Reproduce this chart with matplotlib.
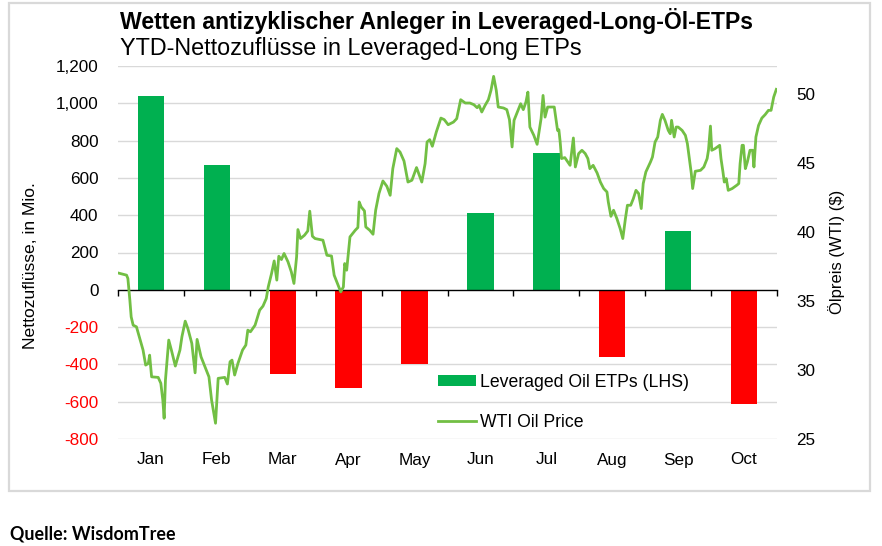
import matplotlib
matplotlib.use("Agg")
import matplotlib.pyplot as plt
import matplotlib.transforms as mtransforms
from matplotlib.patches import Rectangle, Patch
from matplotlib.lines import Line2D

# ---------------- data ----------------
months = ["Jan", "Feb", "Mar", "Apr", "May", "Jun", "Jul", "Aug", "Sep", "Oct"]
flows = [1040, 670, -450, -525, -397, 414, 731, -363, 313, -610]

left_ticks = [-800, -600, -400, -200, 0, 200, 400, 600, 800, 1000, 1200]
right_ticks = [25, 30, 35, 40, 45, 50]

# WTI price, position measured in months from 1 Jan
oil_pos = [0.00, 0.13, 0.15, 0.18, 0.20, 0.23, 0.28, 0.33, 0.38, 0.42, 0.46, 0.48, 0.51, 0.61, 0.65,
           0.68, 0.70, 0.72, 0.77, 0.81, 0.87, 0.94, 0.97, 1.02, 1.06, 1.12, 1.17, 1.20, 1.26, 1.32,
           1.38, 1.42, 1.48, 1.52, 1.62, 1.66, 1.70, 1.73, 1.77, 1.82, 1.89, 1.94, 1.97, 2.01, 2.08,
           2.15, 2.20, 2.25, 2.28, 2.33, 2.37, 2.41, 2.44, 2.48, 2.52, 2.58, 2.63, 2.67, 2.71, 2.73,
           2.77, 2.83, 2.88, 2.91, 2.95, 2.99, 3.11, 3.17, 3.24, 3.28, 3.33, 3.38, 3.42, 3.44, 3.47,
           3.52, 3.60, 3.64, 3.66, 3.69, 3.74, 3.76, 3.82, 3.87, 3.91, 3.96, 4.02, 4.08, 4.13, 4.17,
           4.23, 4.28, 4.34, 4.40, 4.46, 4.53, 4.61, 4.66, 4.69, 4.73, 4.77, 4.83, 4.90, 4.95, 5.01,
           5.09, 5.14, 5.20, 5.27, 5.34, 5.40, 5.45, 5.48, 5.52, 5.57, 5.62, 5.66, 5.70, 5.74, 5.77,
           5.85, 5.90, 5.94, 5.98, 6.01, 6.07, 6.11, 6.15, 6.19, 6.22, 6.25, 6.31, 6.36, 6.42, 6.45,
           6.48, 6.52, 6.62, 6.67, 6.69, 6.71, 6.73, 6.78, 6.86, 6.91, 6.94, 6.99, 7.04, 7.09, 7.13,
           7.16, 7.21, 7.27, 7.32, 7.37, 7.42, 7.44, 7.48, 7.52, 7.57, 7.62, 7.66, 7.70, 7.73, 7.78,
           7.82, 7.86, 7.90, 7.94, 7.97, 8.01, 8.08, 8.11, 8.15, 8.19, 8.23, 8.26, 8.30, 8.35, 8.38,
           8.40, 8.44, 8.47, 8.50, 8.56, 8.61, 8.64, 8.67, 8.70, 8.72, 8.76, 8.84, 8.89, 8.94, 8.96,
           8.99, 9.01, 9.06, 9.13, 9.15, 9.18, 9.20, 9.23, 9.26, 9.32, 9.39, 9.42, 9.44, 9.47, 9.49,
           9.52, 9.55, 9.59, 9.63, 9.65, 9.68, 9.72, 9.77, 9.82, 9.87, 9.91, 9.95, 9.99]
oil_price = [37.02, 36.86, 36.62, 35.05, 33.84, 33.24, 33.12, 32.28, 31.44, 30.35, 30.47, 31.07, 29.50, 29.46, 29.03,
             27.82, 26.50, 29.27, 32.16, 31.44, 30.28, 31.44, 32.40, 33.53, 33.00, 31.92, 29.79, 32.21, 30.95, 30.23,
             29.50, 27.82, 26.14, 29.39, 29.46, 28.98, 30.59, 30.71, 29.63, 30.47, 31.44, 31.80, 32.88, 32.76, 33.24,
             34.33, 34.62, 35.17, 36.01, 36.98, 37.89, 36.50, 38.23, 37.99, 38.43, 37.82, 37.10, 36.26, 38.18, 40.16,
             39.51, 39.75, 40.06, 41.49, 39.68, 39.51, 39.39, 38.30, 38.25, 36.86, 36.26, 35.65, 36.01, 37.70, 37.22,
             39.63, 40.11, 40.31, 42.16, 41.80, 41.51, 40.35, 40.11, 39.82, 41.56, 42.77, 43.68, 43.29, 42.64, 44.57,
             46.02, 45.77, 45.12, 43.60, 43.73, 44.65, 43.60, 44.93, 46.50, 46.67, 46.19, 47.22, 48.23, 48.12, 47.75,
             47.94, 48.19, 49.56, 49.32, 49.32, 49.20, 48.98, 49.15, 48.67, 49.15, 49.56, 50.24, 51.25, 50.24, 49.03,
             48.96, 48.84, 48.12, 46.14, 48.07, 48.79, 49.27, 48.84, 49.39, 50.11, 47.58, 46.98, 46.33, 48.19, 49.87,
             48.30, 49.03, 49.03, 47.34, 47.39, 46.50, 45.30, 45.37, 44.81, 46.79, 44.69, 45.66, 45.90, 45.66, 45.30,
             44.57, 44.81, 44.26, 43.60, 43.13, 42.88, 42.16, 41.12, 41.56, 40.96, 40.23, 39.51, 40.96, 41.92, 41.92,
             42.40, 43.00, 42.77, 41.68, 43.49, 44.33, 45.05, 45.41, 46.50, 46.86, 48.07, 48.50, 48.07, 47.34, 47.10,
             48.07, 46.86, 47.58, 47.58, 47.34, 46.98, 46.38, 45.30, 44.21, 43.13, 44.38, 44.45, 44.69, 45.30, 45.90,
             47.65, 45.90, 46.02, 46.26, 45.30, 44.33, 43.60, 43.85, 43.00, 43.13, 43.37, 43.49, 44.93, 46.26, 46.26,
             44.57, 45.05, 45.90, 45.90, 44.69, 46.86, 47.70, 48.23, 48.48, 48.79, 48.79, 49.75, 50.31]

title = "Wetten antizyklischer Anleger in Leveraged-Long-Öl-ETPs"
subtitle = "YTD-Nettozuflüsse in Leveraged-Long ETPs"
source = "Quelle: WisdomTree"
legend_labels = ["Leveraged Oil ETPs (LHS)", "WTI Oil Price"]
ylabel_left = "Nettozuflüsse, in Mio."
ylabel_right = "Ölpreis (WTI) ($)"

# ---------------- style ----------------
W, H = 882, 546
GREEN = "#00B050"
RED = "#FF0000"
LINE = "#72BF44"
GRID = "#D9D9D9"
FS = 12.3
plt.rcParams["font.family"] = ["Liberation Sans", "DejaVu Sans"]

fig = plt.figure(figsize=(W / 100, H / 100), dpi=100)

def fx(px):
    return px / W

def fy(py):
    return 1 - py / H

# border frame
fig.patches.append(Rectangle((fx(9), fy(491)), fx(870) - fx(9), fy(3) - fy(491),
                             transform=fig.transFigure, fill=False, edgecolor=GRID, lw=1.6))

ax_l, ax_r, ax_t, ax_b = 118, 777, 66, 439
ax = fig.add_axes([fx(ax_l), fy(ax_b), fx(ax_r) - fx(ax_l), fy(ax_t) - fy(ax_b)])
ax.set_xlim(0, len(months))
ax.set_ylim(left_ticks[0], left_ticks[-1])
ax.set_facecolor("none")

for t in left_ticks:
    if t != 0:
        ax.axhline(t, color=GRID, lw=1.0, zorder=0)

centers = [i + 0.5 for i in range(len(months))]
colors = [GREEN if v >= 0 else RED for v in flows]
ax.bar(centers, flows, width=0.4, color=colors, zorder=2, linewidth=0)

for s in ["top", "left", "right"]:
    ax.spines[s].set_visible(False)
ax.spines["bottom"].set_position(("data", 0))
ax.spines["bottom"].set_color("black")
ax.spines["bottom"].set_linewidth(1.0)
ax.spines["bottom"].set_zorder(3)
ax.set_xticks(range(len(months) + 1))
ax.tick_params(axis="x", direction="out", length=4, width=1.0, color="black", labelbottom=False)

ax.set_yticks(left_ticks)
ax.set_yticklabels([f"{t:,}" for t in left_ticks])
ax.tick_params(axis="y", length=0, pad=14.0, labelsize=FS)
for lab, t in zip(ax.get_yticklabels(), left_ticks):
    lab.set_color(RED if t < 0 else "black")

xlab_tr = mtransforms.blended_transform_factory(ax.transData, fig.transFigure)
for c, m in zip(centers, months):
    ax.text(c, fy(460), m, transform=xlab_tr, ha="center", va="center", fontsize=FS)

ax2 = ax.twinx()
ax2.set_ylim(25, 52)
ax2.set_yticks(right_ticks)
ax2.tick_params(axis="y", length=0, pad=14.0, labelsize=FS)
for s in ax2.spines.values():
    s.set_visible(False)
ax2.plot(oil_pos, oil_price, color=LINE, lw=2.0, zorder=4, solid_joinstyle="round")

# legend
handles = [Patch(facecolor=GREEN, edgecolor="none"), Line2D([0], [0], color=LINE, lw=2.0)]
ax2.legend(handles, legend_labels, loc="upper left",
           bbox_to_anchor=(fx(438), fy(374)), bbox_transform=fig.transFigure, frameon=False,
           fontsize=12.7, handlelength=2.15, handleheight=0.55, handletextpad=0.25,
           labelspacing=1.3, borderpad=0, borderaxespad=0)

# axis labels
fig.text(fx(31), fy(266), ylabel_left, rotation=90, ha="center", va="center", fontsize=12.6)
fig.text(fx(837), fy(252), ylabel_right, rotation=90, ha="center", va="center", fontsize=12.0)

# titles
fig.text(fx(120), fy(28.5), title, ha="left", va="baseline", fontsize=16.6, fontweight="bold")
fig.text(fx(120), fy(55), subtitle, ha="left", va="baseline", fontsize=16.8)

fig.text(fx(10), fy(540), source, ha="left", va="baseline", fontsize=12.9, fontweight="bold",
         family=["Lato", "DejaVu Sans"])

fig.savefig("out.png", dpi=100)
